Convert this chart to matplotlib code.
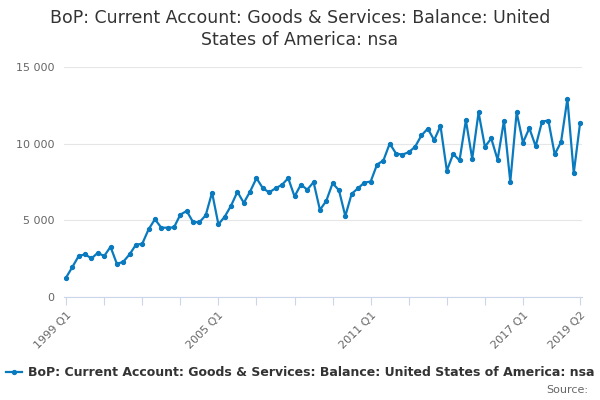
import matplotlib
matplotlib.use("Agg")
import matplotlib.pyplot as plt
from matplotlib.ticker import FuncFormatter

# quarterly, 1999 Q1 .. 2019 Q2
years = list(range(1999, 2020))
quarters = [f"{y} Q{q}" for y in years for q in range(1, 5)][:82]

values = [
    1270, 1965, 2686, 2777, 2515, 2882, 2666, 3275, 2162, 2293,
    2777, 3406, 3472, 4415, 5070, 4520, 4520, 4540, 5370, 5610,
    4890, 4870, 5330, 6810, 4740, 5240, 5960, 6860, 6140, 6880,
    7750, 7100, 6820, 7090, 7310, 7750, 6560, 7330, 7000, 7490,
    5680, 6270, 7420, 6960, 5280, 6730, 7090, 7460, 7530, 8640,
    8900, 10010, 9350, 9290, 9440, 9800, 10540, 10980, 10230, 11160,
    8240, 9330, 8910, 11530, 9010, 12040, 9800, 10340, 8950, 11500,
    7510, 12040, 10070, 11010, 9830, 11440, 11510, 9300, 10110, 12930,
    8080, 11360,
]

title = "BoP: Current Account: Goods & Services: Balance: United\nStates of America: nsa"
series_name = "BoP: Current Account: Goods & Services: Balance: United States of America: nsa"
line_col = "#0a7abf"

fig = plt.figure(figsize=(6, 4), dpi=100)
ax = fig.add_axes([0.107, 0.2575, 0.863, 0.575])

x = list(range(len(values)))
ax.plot(x, values, color=line_col, lw=1.6, marker="o", ms=2.8, label=series_name)

ax.set_xlim(-0.3, len(values) - 0.7)
ax.set_ylim(0, 15000)
ax.set_yticks([0, 5000, 10000, 15000])
ax.yaxis.set_major_formatter(FuncFormatter(lambda v, p: f"{int(v):,}".replace(",", " ")))
ax.grid(axis="y", color="#e6e6e6", lw=0.8)
ax.set_axisbelow(True)

tick_pos = list(range(0, len(values), 6))[:-1] + [len(values) - 1]
labelled = {"1999 Q1", "2005 Q1", "2011 Q1", "2017 Q1", "2019 Q2"}
ax.set_xticks(tick_pos)
ax.set_xticklabels([quarters[i] if quarters[i] in labelled else "" for i in tick_pos],
                   rotation=45, ha="right", rotation_mode="anchor")

for s in ("top", "right", "left"):
    ax.spines[s].set_visible(False)
ax.spines["bottom"].set_color("#ccd6eb")
ax.tick_params(axis="x", colors="#ccd6eb", length=6, labelcolor="#666666", labelsize=8)
ax.tick_params(axis="y", length=0, labelcolor="#666666", labelsize=8, pad=7)

fig.text(0.5, 0.978, title, ha="center", va="top", fontsize=12.5, color="#333333",
         linespacing=1.3)

leg = fig.legend(loc="center", bbox_to_anchor=(0.5, 0.068), frameon=False,
                 prop={"weight": "bold", "size": 9}, handlelength=1.3,
                 handletextpad=0.5, borderaxespad=0)
for t in leg.get_texts():
    t.set_color("#333333")
fig.text(0.98, 0.025, "Source:", ha="right", va="center", fontsize=8, color="#666666")

fig.savefig("out.png", dpi=100)
